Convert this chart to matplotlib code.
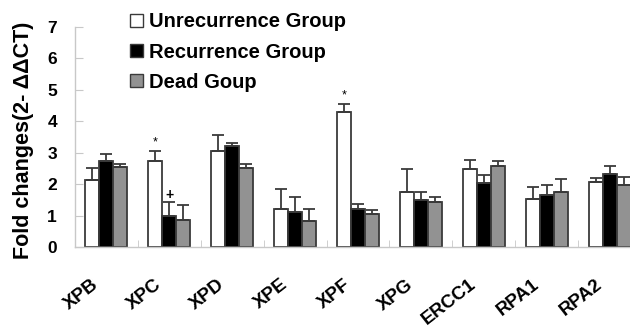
import numpy as np
import matplotlib
matplotlib.use("Agg")
import matplotlib.pyplot as plt
from matplotlib.patches import Patch
from matplotlib.transforms import ScaledTranslation

genes = ["XPB", "XPC", "XPD", "XPE", "XPF", "XPG", "ERCC1", "RPA1", "RPA2"]

unrecurrence = [2.14, 2.75, 3.07, 1.22, 4.29, 1.76, 2.49, 1.54, 2.08]
unrecurrence_err = [0.38, 0.32, 0.48, 0.61, 0.25, 0.73, 0.29, 0.38, 0.12]

recurrence = [2.75, 1.00, 3.20, 1.10, 1.22, 1.50, 2.04, 1.66, 2.33]
recurrence_err = [0.20, 0.42, 0.10, 0.50, 0.16, 0.26, 0.26, 0.32, 0.26]

dead = [2.53, 0.87, 2.52, 0.83, 1.06, 1.43, 2.59, 1.76, 1.98]
dead_err = [0.12, 0.47, 0.13, 0.39, 0.12, 0.17, 0.16, 0.41, 0.26]

series_names = ["Unrecurrence Group", "Recurrence Group", "Dead Goup"]
y_ticks = [0, 1, 2, 3, 4, 5, 6, 7]

plt.rcParams["font.family"] = ["Liberation Sans", "DejaVu Sans"]

fig = plt.figure(figsize=(6.3, 3.32), dpi=100)
ax = fig.add_axes([75 / 630, 85 / 332, 566 / 630, 220 / 332])

x = np.arange(len(genes))
w = 0.223
edge = "#3a3a3a"
colors = ["white", "black", "#929292"]
data = [(unrecurrence, unrecurrence_err), (recurrence, recurrence_err), (dead, dead_err)]

for i, (vals, errs) in enumerate(data):
    pos = x + (i - 1) * w
    ax.bar(pos, vals, width=w, color=colors[i], edgecolor=edge, linewidth=1.3, zorder=2)
    # upper error bars only
    ax.errorbar(pos, vals, yerr=[np.zeros(len(vals)), errs], fmt="none",
                ecolor=edge, elinewidth=1.3, capsize=4, capthick=1.3, zorder=3)

# significance markers
ax.text(1 - w, unrecurrence[1] + unrecurrence_err[1] + 0.08, "*", ha="center", va="bottom", fontsize=9)
ax.text(4 - w, unrecurrence[4] + unrecurrence_err[4] + 0.08, "*", ha="center", va="bottom", fontsize=9)
ax.text(1, recurrence[1] + recurrence_err[1] + 0.02, "+", ha="center", va="bottom",
        fontsize=10, fontweight="bold")

ax.set_xlim(-0.5, len(genes) - 0.5)
ax.set_ylim(0, 7)
ax.set_yticks(y_ticks)
ax.set_yticklabels([str(t) for t in y_ticks], fontsize=12.5, fontweight="bold")
ax.set_ylabel("Fold changes(2- \u0394\u0394CT)", fontsize=15.5, fontweight="bold")
ax.yaxis.set_label_coords(-0.0724, 0.484)

ax.set_xticks(x)
ax.set_xticklabels(genes, rotation=38, ha="right", va="top", rotation_mode="anchor",
                   fontsize=13.5, fontweight="bold")
ax.tick_params(axis="x", length=0, pad=21)
shift = ScaledTranslation(-15 / 100, 0, fig.dpi_scale_trans)
for lab in ax.get_xticklabels():
    lab.set_transform(lab.get_transform() + shift)
ax.set_xticks(np.arange(0.5, len(genes) - 0.5, 1), minor=True)
ax.tick_params(axis="x", which="minor", direction="in", length=5, color="#c8c8c8")
ax.tick_params(axis="y", direction="in", length=6, color="#c8c8c8", pad=13)

for s in ["top", "right"]:
    ax.spines[s].set_visible(False)
for s in ["left", "bottom"]:
    ax.spines[s].set_color("#c8c8c8")
    ax.spines[s].set_linewidth(1.0)

handles = [Patch(facecolor=colors[i], edgecolor=edge, linewidth=1.0) for i in range(3)]
leg = fig.legend(handles, series_names, loc="upper left", bbox_to_anchor=(0.178, 1.0175),
                 frameon=False, prop={"weight": "bold", "size": 14.5},
                 handlelength=0.62, handleheight=0.62, handletextpad=0.3, labelspacing=0.56)

fig.savefig("out.png", dpi=100)
